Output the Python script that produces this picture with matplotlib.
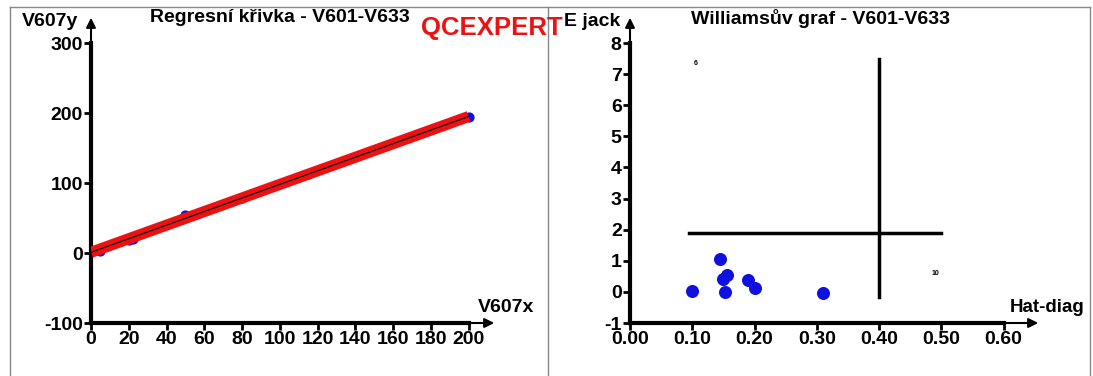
import matplotlib
matplotlib.use("Agg")
import matplotlib.pyplot as plt
from matplotlib.lines import Line2D
from matplotlib.ticker import FormatStrFormatter

plt.rcParams["font.family"] = ["Liberation Sans", "DejaVu Sans"]
plt.rcParams["font.weight"] = "bold"
plt.rcParams["axes.unicode_minus"] = False

# regression panel data
reg_x = [0, 5, 20, 22, 50, 80, 115, 200]
reg_y = [2, 3, 18, 20, 55, 78, 113, 195]
fit_x = [0, 200]
fit_y = [1, 195]
reg_xticks = list(range(0, 201, 20))
reg_yticks = [-100, 0, 100, 200, 300]

# Williams graph data
hat = [0.10, 0.145, 0.155, 0.150, 0.152, 0.19, 0.20, 0.31]
ejack = [0.03, 1.05, 0.55, 0.40, 0.00, 0.38, 0.13, -0.02]
hlim_x = [0.095, 0.50]
hlim_y = 1.9
vlim_x = 0.40
vlim_y = [-0.15, 7.5]
point_labels = [("6", 0.105, 7.35), ("10", 0.49, 0.58)]
w_xticks = [0.0, 0.1, 0.2, 0.3, 0.4, 0.5, 0.6]
w_yticks = list(range(-1, 9))

W, H = 1093, 376
fig = plt.figure(figsize=(W / 100, H / 100), dpi=100)


def px(x, y):
    return x / W, 1 - y / H


def style_axis(ax, xmax_tick, ymax_tick):
    for s in ["top", "right"]:
        ax.spines[s].set_visible(False)
    for s in ["left", "bottom"]:
        ax.spines[s].set_linewidth(3)
    ax.spines["bottom"].set_bounds(ax.get_xlim()[0], xmax_tick)
    ax.spines["left"].set_bounds(ax.get_ylim()[0], ymax_tick)
    ax.tick_params(direction="out", length=5, width=2, labelsize=14, pad=1)
    for lab in ax.get_xticklabels() + ax.get_yticklabels():
        lab.set_fontweight("bold")
    x0, x1 = ax.get_xlim()
    y0, y1 = ax.get_ylim()
    ax.annotate("", xy=(x1, y0), xytext=(xmax_tick, y0), annotation_clip=False,
                arrowprops=dict(arrowstyle="-|>", lw=1.5, color="black", mutation_scale=14))
    ax.annotate("", xy=(x0, y1), xytext=(x0, ymax_tick), annotation_clip=False,
                arrowprops=dict(arrowstyle="-|>", lw=1.5, color="black", mutation_scale=14))


# left panel
l, b = px(91, 323)
r, t = px(497, 15)
ax1 = fig.add_axes([l, b, r - l, t - b])
ax1.scatter(reg_x, reg_y, s=40, color="#1010e0", zorder=2)
ax1.plot(fit_x, fit_y, color="#ee1111", lw=8, solid_capstyle="butt", zorder=3)
ax1.plot(fit_x, fit_y, color="black", lw=0.8, zorder=4)
ax1.set_xlim(0, 215)
ax1.set_ylim(-100, 340)
ax1.set_xticks(reg_xticks)
ax1.set_yticks(reg_yticks)
style_axis(ax1, 200, 300)

# right panel
l, b = px(630, 323)
r, t = px(1041, 15)
ax2 = fig.add_axes([l, b, r - l, t - b])
ax2.scatter(hat, ejack, s=70, color="#1010e0", zorder=3)
ax2.plot(hlim_x, [hlim_y, hlim_y], color="black", lw=2.5)
ax2.plot([vlim_x, vlim_x], vlim_y, color="black", lw=2.5)
for txt, xx, yy in point_labels:
    ax2.text(xx, yy, txt, fontsize=5, ha="center", va="center")
ax2.set_xlim(0, 0.66)
ax2.set_ylim(-1, 8.9)
ax2.set_xticks(w_xticks)
ax2.set_yticks(w_yticks)
ax2.xaxis.set_major_formatter(FormatStrFormatter("%.2f"))
style_axis(ax2, 0.6, 8)

# titles and axis names
fig.text(*px(280, 18), "Regresní křivka - V601-V633", fontsize=14, ha="center", va="center")
fig.text(*px(820, 18), "Williamsův graf - V601-V633", fontsize=14, ha="center", va="center")
fig.text(*px(492, 28), "QCEXPERT", fontsize=18.5, color="#ee1111", ha="center", va="center")
fig.text(*px(50, 21), "V607y", fontsize=14, ha="center", va="center")
fig.text(*px(506, 307), "V607x", fontsize=14, ha="center", va="center")
fig.text(*px(592, 21), "E jack", fontsize=14, ha="center", va="center")
fig.text(*px(1010, 307), "Hat-diag", fontsize=13.5, ha="left", va="center")

# panel frames
for (x0, y0, x1, y1) in [(10, 7, 1090, 7), (10, 7, 10, 376), (548, 7, 548, 376), (1090, 7, 1090, 376)]:
    a, bb = px(x0, y0)
    c, d = px(x1, y1)
    fig.add_artist(Line2D([a, c], [bb, d], color="#888888", lw=1))

fig.savefig("out.png", dpi=100)
